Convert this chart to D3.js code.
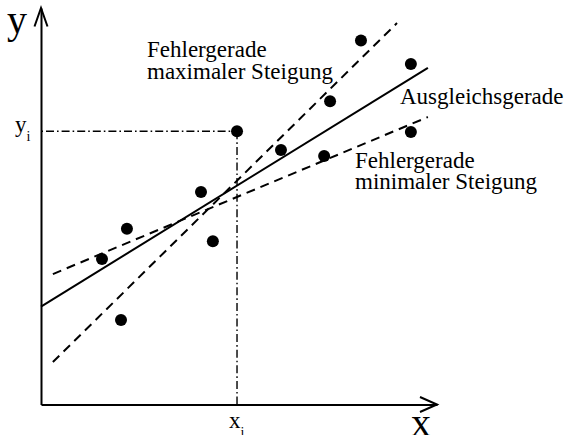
<!DOCTYPE html>
<html>
<head>
<meta charset="utf-8">
<script src="https://cdn.jsdelivr.net/npm/d3@7"></script>
<style>
  html, body { margin: 0; padding: 0; background: #fff; }
  svg { display: block; }
</style>
</head>
<body>
<svg id="chart" width="566" height="435"></svg>
<script>
// Measured points (arbitrary units, 0..100 on both axes)
const pointX = [15.4, 21.7, 20.2, 40.4, 43.4, 49.5, 60.6, 71.5, 73.0, 80.8, 93.4, 93.4];
const pointY = [36.7, 44.3, 21.3, 53.6, 41.2, 68.9, 64.2, 62.7, 76.5, 91.8, 85.9, 68.7];

// Straight lines, each given by its two end points [x, y]
const fitLine = [[0, 24.7], [97.7, 84.9]];   // Ausgleichsgerade
const maxLine = [[3.0, 10.7], [89.9, 96.2]]; // Fehlergerade maximaler Steigung
const minLine = [[3.0, 32.9], [97.7, 72.5]]; // Fehlergerade minimaler Steigung

// Index of the highlighted point (x_i, y_i)
const markedIndex = 5;

// Texts
const axisNames = ["x", "y"];
const maxLabel = ["Fehlergerade", "maximaler Steigung"];
const minLabel = ["Fehlergerade", "minimaler Steigung"];
const fitLabel = "Ausgleichsgerade";

const FONT = '"Liberation Serif", "Times New Roman", Times, serif';

const svg = d3.select("#chart");

const x = d3.scaleLinear().domain([0, 100]).range([41, 437]);
const y = d3.scaleLinear().domain([0, 100]).range([404.5, 8]);

// Axes without ticks: only the domain lines
const xAxis = d3.axisBottom(x).tickValues([]).tickSizeOuter(0);
const yAxis = d3.axisLeft(y).tickValues([]).tickSizeOuter(0);

svg.append("g")
  .attr("transform", `translate(0,${y(0)})`)
  .call(xAxis)
  .call(g => g.select(".domain").attr("stroke", "#000").attr("stroke-width", 2));

svg.append("g")
  .attr("transform", `translate(${x(0)},0)`)
  .call(yAxis)
  .call(g => g.select(".domain").attr("stroke", "#000").attr("stroke-width", 2));

// Open arrow heads at the ends of both axes
const xEnd = x.range()[1], yEnd = y.range()[1];
svg.append("path")
  .attr("d", `M${xEnd - 17},${y(0) - 7.5}L${xEnd},${y(0)}L${xEnd - 17},${y(0) + 7.5}`)
  .attr("fill", "none").attr("stroke", "#000").attr("stroke-width", 2);
svg.append("path")
  .attr("d", `M${x(0) - 6.5},${yEnd + 18.5}L${x(0)},${yEnd}L${x(0) + 6.5},${yEnd + 18.5}`)
  .attr("fill", "none").attr("stroke", "#000").attr("stroke-width", 2);

// Guide lines from the highlighted point to both axes
const mx = pointX[markedIndex], my = pointY[markedIndex];
const line = d3.line().x(d => x(d[0])).y(d => y(d[1]));

svg.append("path")
  .attr("d", line([[0, my], [mx, my]]))
  .attr("fill", "none").attr("stroke", "#000").attr("stroke-width", 1.4)
  .attr("stroke-dasharray", "8,3,1.6,3")
  .attr("stroke-dashoffset", -5);
svg.append("path")
  .attr("d", line([[mx, my], [mx, 0]]))
  .attr("fill", "none").attr("stroke", "#000").attr("stroke-width", 1.4)
  .attr("stroke-dasharray", "8,3,1.6,3");

// Regression line and the two error lines
svg.append("path")
  .attr("d", line(fitLine))
  .attr("fill", "none").attr("stroke", "#000").attr("stroke-width", 2);
[maxLine, minLine].forEach(l => {
  svg.append("path")
    .attr("d", line(l))
    .attr("fill", "none").attr("stroke", "#000").attr("stroke-width", 2)
    .attr("stroke-dasharray", "9,6");
});

// Data points
svg.append("g")
  .selectAll("circle")
  .data(pointX.map((v, i) => [v, pointY[i]]))
  .join("circle")
  .attr("cx", d => x(d[0]))
  .attr("cy", d => y(d[1]))
  .attr("r", 6)
  .attr("fill", "#000");

function label(px, py, size) {
  return svg.append("text")
    .attr("x", px).attr("y", py)
    .attr("font-size", size)
    .style("font-family", FONT)
    .attr("fill", "#000");
}

// Axis names
label(7, 33, 40).text(axisNames[1]);
label(411, 436, 40).text(axisNames[0]);

// x_i and y_i
const yi = label(15, y(my) + 1, 23);
yi.append("tspan").text("y");
yi.append("tspan").attr("font-size", 14).attr("dy", 9).text("i");

const xi = label(x(mx) - 8, 428, 23);
xi.append("tspan").text("x");
xi.append("tspan").attr("font-size", 14).attr("dy", 9).text("i");

// Line labels
function block(lines, x0, y0, gap) {
  const t = label(x0, y0, 23);
  lines.forEach((s, i) => {
    t.append("tspan").attr("x", x0).attr("y", y0 + i * gap).text(s);
  });
}
block(maxLabel, 147, 57, 22);
block(minLabel, 355, 168, 21);
label(400, 104, 23).text(fitLabel);
</script>
</body>
</html>
